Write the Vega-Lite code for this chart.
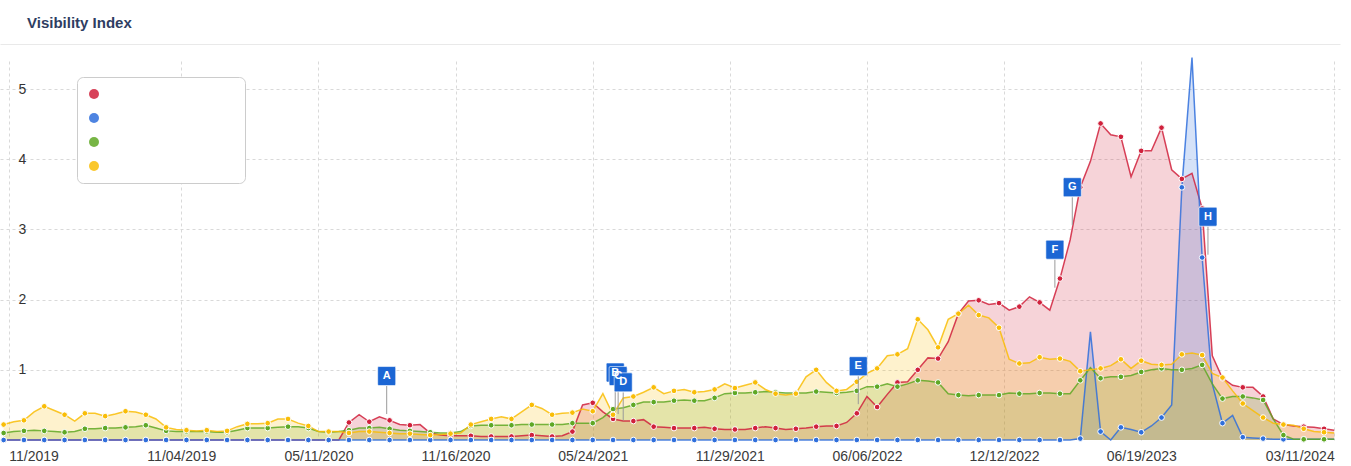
{
  "$schema": "https://vega.github.io/schema/vega-lite/v6.json",
  "width": 1340,
  "height": 379,
  "autosize": {"type": "none"},
  "padding": {"left": 0, "top": 61, "right": 11, "bottom": 26},
  "background": "white",
  "title": {"text": "Visibility Index", "anchor": "start", "frame": "group", "font": "Liberation Sans", "fontSize": 15, "fontWeight": "bold", "color": "#2e3d62", "dx": 27, "baseline": "bottom", "offset": -2},
  "config": {
    "view": {"stroke": null},
    "font": "Liberation Sans",
    "legend": {"symbolType": "circle"}
  },
  "resolve": {"axis": {"x": "independent"}},
  "datasets": {
    "vi": [
      {"date":"2019-03-04","Domain 1":0,"Domain 2":0,"Domain 3":0.10,"Domain 4":0.22},
      {"date":"2019-03-18","Domain 1":0,"Domain 2":0,"Domain 3":0.12,"Domain 4":0.26},
      {"date":"2019-04-01","Domain 1":0,"Domain 2":0,"Domain 3":0.13,"Domain 4":0.28},
      {"date":"2019-04-15","Domain 1":0,"Domain 2":0,"Domain 3":0.14,"Domain 4":0.40},
      {"date":"2019-04-29","Domain 1":0,"Domain 2":0,"Domain 3":0.13,"Domain 4":0.48},
      {"date":"2019-05-13","Domain 1":0,"Domain 2":0,"Domain 3":0.12,"Domain 4":0.42},
      {"date":"2019-05-27","Domain 1":0,"Domain 2":0,"Domain 3":0.11,"Domain 4":0.36},
      {"date":"2019-06-10","Domain 1":0,"Domain 2":0,"Domain 3":0.12,"Domain 4":0.27},
      {"date":"2019-06-24","Domain 1":0,"Domain 2":0,"Domain 3":0.16,"Domain 4":0.38},
      {"date":"2019-07-08","Domain 1":0,"Domain 2":0,"Domain 3":0.16,"Domain 4":0.38},
      {"date":"2019-07-22","Domain 1":0,"Domain 2":0,"Domain 3":0.17,"Domain 4":0.34},
      {"date":"2019-08-05","Domain 1":0,"Domain 2":0,"Domain 3":0.17,"Domain 4":0.37},
      {"date":"2019-08-19","Domain 1":0,"Domain 2":0,"Domain 3":0.18,"Domain 4":0.41},
      {"date":"2019-09-02","Domain 1":0,"Domain 2":0,"Domain 3":0.19,"Domain 4":0.40},
      {"date":"2019-09-16","Domain 1":0,"Domain 2":0,"Domain 3":0.21,"Domain 4":0.36},
      {"date":"2019-09-30","Domain 1":0,"Domain 2":0,"Domain 3":0.17,"Domain 4":0.30},
      {"date":"2019-10-14","Domain 1":0,"Domain 2":0,"Domain 3":0.13,"Domain 4":0.18},
      {"date":"2019-10-28","Domain 1":0,"Domain 2":0,"Domain 3":0.12,"Domain 4":0.15},
      {"date":"2019-11-11","Domain 1":0,"Domain 2":0,"Domain 3":0.12,"Domain 4":0.14},
      {"date":"2019-11-25","Domain 1":0,"Domain 2":0,"Domain 3":0.12,"Domain 4":0.13},
      {"date":"2019-12-09","Domain 1":0,"Domain 2":0,"Domain 3":0.12,"Domain 4":0.14},
      {"date":"2019-12-23","Domain 1":0,"Domain 2":0,"Domain 3":0.11,"Domain 4":0.12},
      {"date":"2020-01-06","Domain 1":0,"Domain 2":0,"Domain 3":0.11,"Domain 4":0.13},
      {"date":"2020-01-20","Domain 1":0,"Domain 2":0,"Domain 3":0.14,"Domain 4":0.19},
      {"date":"2020-02-03","Domain 1":0,"Domain 2":0,"Domain 3":0.17,"Domain 4":0.23},
      {"date":"2020-02-17","Domain 1":0,"Domain 2":0,"Domain 3":0.17,"Domain 4":0.23},
      {"date":"2020-03-02","Domain 1":0,"Domain 2":0,"Domain 3":0.17,"Domain 4":0.24},
      {"date":"2020-03-16","Domain 1":0,"Domain 2":0,"Domain 3":0.18,"Domain 4":0.30},
      {"date":"2020-03-30","Domain 1":0,"Domain 2":0,"Domain 3":0.19,"Domain 4":0.30},
      {"date":"2020-04-13","Domain 1":0,"Domain 2":0,"Domain 3":0.19,"Domain 4":0.24},
      {"date":"2020-04-27","Domain 1":0,"Domain 2":0,"Domain 3":0.17,"Domain 4":0.20},
      {"date":"2020-05-11","Domain 1":0,"Domain 2":0,"Domain 3":0.12,"Domain 4":0.12},
      {"date":"2020-05-25","Domain 1":0,"Domain 2":0,"Domain 3":0.11,"Domain 4":0.12},
      {"date":"2020-06-08","Domain 1":0,"Domain 2":0,"Domain 3":0.12,"Domain 4":0.12},
      {"date":"2020-06-22","Domain 1":0.25,"Domain 2":0,"Domain 3":0.14,"Domain 4":0.10},
      {"date":"2020-07-06","Domain 1":0.36,"Domain 2":0,"Domain 3":0.17,"Domain 4":0.12},
      {"date":"2020-07-20","Domain 1":0.26,"Domain 2":0,"Domain 3":0.17,"Domain 4":0.12},
      {"date":"2020-08-03","Domain 1":0.33,"Domain 2":0,"Domain 3":0.18,"Domain 4":0.11},
      {"date":"2020-08-17","Domain 1":0.28,"Domain 2":0,"Domain 3":0.16,"Domain 4":0.10},
      {"date":"2020-08-31","Domain 1":0.22,"Domain 2":0,"Domain 3":0.14,"Domain 4":0.09},
      {"date":"2020-09-14","Domain 1":0.21,"Domain 2":0,"Domain 3":0.13,"Domain 4":0.09},
      {"date":"2020-09-28","Domain 1":0.22,"Domain 2":0,"Domain 3":0.12,"Domain 4":0.08},
      {"date":"2020-10-12","Domain 1":0.10,"Domain 2":0,"Domain 3":0.11,"Domain 4":0.07},
      {"date":"2020-10-26","Domain 1":0.07,"Domain 2":0,"Domain 3":0.10,"Domain 4":0.08},
      {"date":"2020-11-09","Domain 1":0.06,"Domain 2":0,"Domain 3":0.10,"Domain 4":0.09},
      {"date":"2020-11-23","Domain 1":0.06,"Domain 2":0,"Domain 3":0.12,"Domain 4":0.10},
      {"date":"2020-12-07","Domain 1":0.06,"Domain 2":0,"Domain 3":0.20,"Domain 4":0.22},
      {"date":"2020-12-21","Domain 1":0.05,"Domain 2":0,"Domain 3":0.21,"Domain 4":0.26},
      {"date":"2021-01-04","Domain 1":0.05,"Domain 2":0,"Domain 3":0.21,"Domain 4":0.30},
      {"date":"2021-01-18","Domain 1":0.05,"Domain 2":0,"Domain 3":0.21,"Domain 4":0.33},
      {"date":"2021-02-01","Domain 1":0.05,"Domain 2":0,"Domain 3":0.21,"Domain 4":0.30},
      {"date":"2021-02-15","Domain 1":0.06,"Domain 2":0,"Domain 3":0.22,"Domain 4":0.40},
      {"date":"2021-03-01","Domain 1":0.07,"Domain 2":0,"Domain 3":0.22,"Domain 4":0.50},
      {"date":"2021-03-15","Domain 1":0.06,"Domain 2":0,"Domain 3":0.22,"Domain 4":0.45},
      {"date":"2021-03-29","Domain 1":0.05,"Domain 2":0,"Domain 3":0.22,"Domain 4":0.36},
      {"date":"2021-04-12","Domain 1":0.06,"Domain 2":0,"Domain 3":0.22,"Domain 4":0.38},
      {"date":"2021-04-26","Domain 1":0.12,"Domain 2":0,"Domain 3":0.24,"Domain 4":0.39},
      {"date":"2021-05-10","Domain 1":0.50,"Domain 2":0,"Domain 3":0.24,"Domain 4":0.44},
      {"date":"2021-05-24","Domain 1":0.53,"Domain 2":0,"Domain 3":0.24,"Domain 4":0.41},
      {"date":"2021-06-07","Domain 1":0.40,"Domain 2":0,"Domain 3":0.32,"Domain 4":0.66},
      {"date":"2021-06-21","Domain 1":0.30,"Domain 2":0,"Domain 3":0.44,"Domain 4":0.36},
      {"date":"2021-07-05","Domain 1":0.27,"Domain 2":0,"Domain 3":0.46,"Domain 4":0.60},
      {"date":"2021-07-19","Domain 1":0.27,"Domain 2":0,"Domain 3":0.50,"Domain 4":0.62},
      {"date":"2021-08-02","Domain 1":0.29,"Domain 2":0,"Domain 3":0.54,"Domain 4":0.68},
      {"date":"2021-08-16","Domain 1":0.19,"Domain 2":0,"Domain 3":0.54,"Domain 4":0.75},
      {"date":"2021-08-30","Domain 1":0.18,"Domain 2":0,"Domain 3":0.54,"Domain 4":0.66},
      {"date":"2021-09-13","Domain 1":0.17,"Domain 2":0,"Domain 3":0.56,"Domain 4":0.70},
      {"date":"2021-09-27","Domain 1":0.17,"Domain 2":0,"Domain 3":0.57,"Domain 4":0.72},
      {"date":"2021-10-11","Domain 1":0.17,"Domain 2":0,"Domain 3":0.56,"Domain 4":0.68},
      {"date":"2021-10-25","Domain 1":0.18,"Domain 2":0,"Domain 3":0.56,"Domain 4":0.69},
      {"date":"2021-11-08","Domain 1":0.16,"Domain 2":0,"Domain 3":0.60,"Domain 4":0.72},
      {"date":"2021-11-22","Domain 1":0.15,"Domain 2":0,"Domain 3":0.66,"Domain 4":0.80},
      {"date":"2021-12-06","Domain 1":0.15,"Domain 2":0,"Domain 3":0.67,"Domain 4":0.74},
      {"date":"2021-12-20","Domain 1":0.15,"Domain 2":0,"Domain 3":0.67,"Domain 4":0.78},
      {"date":"2022-01-03","Domain 1":0.17,"Domain 2":0,"Domain 3":0.68,"Domain 4":0.82},
      {"date":"2022-01-17","Domain 1":0.19,"Domain 2":0,"Domain 3":0.69,"Domain 4":0.72},
      {"date":"2022-01-31","Domain 1":0.17,"Domain 2":0,"Domain 3":0.68,"Domain 4":0.66},
      {"date":"2022-02-14","Domain 1":0.15,"Domain 2":0,"Domain 3":0.67,"Domain 4":0.64},
      {"date":"2022-02-28","Domain 1":0.16,"Domain 2":0,"Domain 3":0.67,"Domain 4":0.66},
      {"date":"2022-03-14","Domain 1":0.17,"Domain 2":0,"Domain 3":0.67,"Domain 4":0.90},
      {"date":"2022-03-28","Domain 1":0.19,"Domain 2":0,"Domain 3":0.69,"Domain 4":1.00},
      {"date":"2022-04-11","Domain 1":0.20,"Domain 2":0,"Domain 3":0.68,"Domain 4":0.82},
      {"date":"2022-04-25","Domain 1":0.20,"Domain 2":0,"Domain 3":0.67,"Domain 4":0.70},
      {"date":"2022-05-09","Domain 1":0.25,"Domain 2":0,"Domain 3":0.68,"Domain 4":0.72},
      {"date":"2022-05-23","Domain 1":0.38,"Domain 2":0,"Domain 3":0.70,"Domain 4":0.83},
      {"date":"2022-06-06","Domain 1":0.62,"Domain 2":0,"Domain 3":0.76,"Domain 4":0.95},
      {"date":"2022-06-20","Domain 1":0.47,"Domain 2":0,"Domain 3":0.76,"Domain 4":1.02},
      {"date":"2022-07-04","Domain 1":0.65,"Domain 2":0,"Domain 3":0.80,"Domain 4":1.20},
      {"date":"2022-07-18","Domain 1":0.82,"Domain 2":0,"Domain 3":0.76,"Domain 4":1.22},
      {"date":"2022-08-01","Domain 1":0.83,"Domain 2":0,"Domain 3":0.80,"Domain 4":1.30},
      {"date":"2022-08-15","Domain 1":1.00,"Domain 2":0,"Domain 3":0.85,"Domain 4":1.72},
      {"date":"2022-08-29","Domain 1":1.17,"Domain 2":0,"Domain 3":0.84,"Domain 4":1.57},
      {"date":"2022-09-12","Domain 1":1.16,"Domain 2":0,"Domain 3":0.82,"Domain 4":1.32},
      {"date":"2022-09-26","Domain 1":1.40,"Domain 2":0,"Domain 3":0.66,"Domain 4":1.72},
      {"date":"2022-10-10","Domain 1":1.80,"Domain 2":0,"Domain 3":0.64,"Domain 4":1.80},
      {"date":"2022-10-24","Domain 1":1.98,"Domain 2":0,"Domain 3":0.63,"Domain 4":1.92},
      {"date":"2022-11-07","Domain 1":1.99,"Domain 2":0,"Domain 3":0.64,"Domain 4":1.78},
      {"date":"2022-11-21","Domain 1":1.93,"Domain 2":0,"Domain 3":0.64,"Domain 4":1.74},
      {"date":"2022-12-05","Domain 1":1.95,"Domain 2":0,"Domain 3":0.64,"Domain 4":1.60},
      {"date":"2022-12-19","Domain 1":1.85,"Domain 2":0,"Domain 3":0.67,"Domain 4":1.15},
      {"date":"2023-01-02","Domain 1":1.90,"Domain 2":0,"Domain 3":0.66,"Domain 4":1.09},
      {"date":"2023-01-16","Domain 1":2.04,"Domain 2":0,"Domain 3":0.66,"Domain 4":1.10},
      {"date":"2023-01-30","Domain 1":1.96,"Domain 2":0,"Domain 3":0.67,"Domain 4":1.18},
      {"date":"2023-02-13","Domain 1":1.85,"Domain 2":0,"Domain 3":0.67,"Domain 4":1.15},
      {"date":"2023-02-27","Domain 1":2.30,"Domain 2":0,"Domain 3":0.66,"Domain 4":1.16},
      {"date":"2023-03-13","Domain 1":2.85,"Domain 2":0,"Domain 3":0.66,"Domain 4":1.12},
      {"date":"2023-03-27","Domain 1":3.60,"Domain 2":0.02,"Domain 3":0.85,"Domain 4":0.98},
      {"date":"2023-04-10","Domain 1":3.97,"Domain 2":1.54,"Domain 3":1.03,"Domain 4":1.00},
      {"date":"2023-04-24","Domain 1":4.51,"Domain 2":0.12,"Domain 3":0.88,"Domain 4":1.02},
      {"date":"2023-05-08","Domain 1":4.35,"Domain 2":0,"Domain 3":0.90,"Domain 4":1.06},
      {"date":"2023-05-22","Domain 1":4.32,"Domain 2":0.18,"Domain 3":0.90,"Domain 4":1.15},
      {"date":"2023-06-05","Domain 1":3.75,"Domain 2":0.15,"Domain 3":0.92,"Domain 4":1.02},
      {"date":"2023-06-19","Domain 1":4.12,"Domain 2":0.11,"Domain 3":0.97,"Domain 4":1.13},
      {"date":"2023-07-03","Domain 1":4.12,"Domain 2":0.20,"Domain 3":1.00,"Domain 4":1.08},
      {"date":"2023-07-17","Domain 1":4.45,"Domain 2":0.32,"Domain 3":1.02,"Domain 4":1.07},
      {"date":"2023-07-31","Domain 1":3.85,"Domain 2":0.50,"Domain 3":1.00,"Domain 4":1.08},
      {"date":"2023-08-14","Domain 1":3.72,"Domain 2":3.60,"Domain 3":1.00,"Domain 4":1.22},
      {"date":"2023-08-28","Domain 1":3.80,"Domain 2":5.45,"Domain 3":1.02,"Domain 4":1.24},
      {"date":"2023-09-11","Domain 1":3.30,"Domain 2":2.60,"Domain 3":1.07,"Domain 4":1.21},
      {"date":"2023-09-25","Domain 1":1.20,"Domain 2":0.80,"Domain 3":0.80,"Domain 4":0.95},
      {"date":"2023-10-09","Domain 1":0.88,"Domain 2":0.24,"Domain 3":0.59,"Domain 4":0.89},
      {"date":"2023-10-23","Domain 1":0.78,"Domain 2":0.35,"Domain 3":0.62,"Domain 4":0.70},
      {"date":"2023-11-06","Domain 1":0.75,"Domain 2":0.04,"Domain 3":0.62,"Domain 4":0.52},
      {"date":"2023-11-20","Domain 1":0.75,"Domain 2":0.03,"Domain 3":0.60,"Domain 4":0.42},
      {"date":"2023-12-04","Domain 1":0.62,"Domain 2":0.02,"Domain 3":0.57,"Domain 4":0.32},
      {"date":"2023-12-18","Domain 1":0.30,"Domain 2":0.01,"Domain 3":0.30,"Domain 4":0.24},
      {"date":"2024-01-01","Domain 1":0.22,"Domain 2":0.01,"Domain 3":0.07,"Domain 4":0.22},
      {"date":"2024-01-15","Domain 1":0.20,"Domain 2":0.01,"Domain 3":0.01,"Domain 4":0.21},
      {"date":"2024-01-29","Domain 1":0.19,"Domain 2":0.01,"Domain 3":0.01,"Domain 4":0.16},
      {"date":"2024-02-12","Domain 1":0.18,"Domain 2":0.01,"Domain 3":0.01,"Domain 4":0.12},
      {"date":"2024-02-26","Domain 1":0.16,"Domain 2":0.01,"Domain 3":0.01,"Domain 4":0.11},
      {"date":"2024-03-11","Domain 1":0.14,"Domain 2":0.01,"Domain 3":0.01,"Domain 4":0.10}
    ],
    "events": [
      {"date":"2020-08-13","label":"A","value":0.37},
      {"date":"2021-06-24","label":"B","value":0.42},
      {"date":"2021-06-28","label":"C","value":0.37},
      {"date":"2021-07-05","label":"D","value":0.28},
      {"date":"2022-05-25","label":"E","value":0.51},
      {"date":"2023-02-20","label":"F","value":2.17},
      {"date":"2023-03-16","label":"G","value":3.06},
      {"date":"2023-09-19","label":"H","value":2.64}
    ]
  },
  "layer": [
    {
      "data": {"name": "vi"},
      "transform": [{"fold": ["Domain 1", "Domain 2", "Domain 3", "Domain 4"], "as": ["site", "value"]}],
      "mark": {"type": "area", "fillOpacity": 0.2, "strokeWidth": 0},
      "encoding": {
        "x": {"field": "date", "type": "temporal",
          "scale": {"type": "utc", "domain": [{"year": 2019, "month": 2, "date": 27, "utc": true}, {"year": 2024, "month": 3, "date": 19, "utc": true}]},
          "axis": {"title": null, "orient": "bottom",
            "values": [
              {"year": 2019, "month": 3, "date": 11, "utc": true},
              {"year": 2019, "month": 11, "date": 4, "utc": true},
              {"year": 2020, "month": 5, "date": 11, "utc": true},
              {"year": 2020, "month": 11, "date": 16, "utc": true},
              {"year": 2021, "month": 5, "date": 24, "utc": true},
              {"year": 2021, "month": 11, "date": 29, "utc": true},
              {"year": 2022, "month": 6, "date": 6, "utc": true},
              {"year": 2022, "month": 12, "date": 12, "utc": true},
              {"year": 2023, "month": 6, "date": 19, "utc": true},
              {"year": 2024, "month": 3, "date": 11, "utc": true}
            ],
            "labelExpr": "datum.value < 1.56e12 ? utcFormat(datum.value, '%d/%Y') : utcFormat(datum.value, '%m/%d/%Y')",
            "labelFlush": 15, "labelOverlap": false, "labelBound": false,
            "labelFontSize": 14, "labelColor": "#3a3a3a", "labelPadding": 9,
            "domain": false, "ticks": false,
            "grid": true, "gridColor": "#d9d9d9", "gridDash": [3, 3], "gridWidth": 1,
            "encode": {
              "grid": {"update": {"opacity": {"signal": "datum.value < 1.56e12 ? 0 : 1"}}}
            }
          }
        },
        "y": {"field": "value", "type": "quantitative", "stack": null,
          "scale": {"domain": [0, 5.4], "nice": false, "zero": true},
          "axis": {"title": null, "values": [1, 2, 3, 4, 5], "format": "d", "domain": false, "ticks": false, "tickSize": 0,
            "labelAlign": "center", "labelPadding": -22, "labelFontSize": 14, "labelColor": "#333333",
            "grid": true, "gridColor": "#d9d9d9", "gridDash": [3, 3], "gridWidth": 1}
        },
        "color": {"field": "site", "type": "nominal",
          "scale": {"domain": ["Domain 1", "Domain 2", "Domain 3", "Domain 4"], "range": ["#d0213c", "#2f6fdc", "#5fa825", "#f9bd07"]},
          "legend": {"orient": "none", "legendX": 77, "legendY": 16, "title": null,
            "labelOpacity": 0, "labelOffset": 74,
            "symbolType": "circle", "symbolSize": 100, "symbolStrokeWidth": 0, "symbolOpacity": 1,
            "padding": 10, "rowPadding": 10, "labelFontSize": 14,
            "strokeColor": "#cccccc", "fillColor": "white", "cornerRadius": 6}
        }
      }
    },
    {
      "data": {"name": "vi"},
      "transform": [{"fold": ["Domain 1", "Domain 2", "Domain 3", "Domain 4"], "as": ["site", "value"]}],
      "mark": {"type": "line", "strokeWidth": 1.5, "opacity": 0.85},
      "encoding": {
        "x": {"field": "date", "type": "temporal",
          "axis": {"orient": "top", "offset": 17, "title": null, "labels": false, "ticks": false, "grid": false, "domain": true, "domainColor": "#e9e9e9", "domainWidth": 1}},
        "y": {"field": "value", "type": "quantitative", "stack": null},
        "color": {"field": "site", "type": "nominal"}
      }
    },
    {
      "data": {"name": "vi"},
      "transform": [
        {"fold": ["Domain 1", "Domain 2", "Domain 3", "Domain 4"], "as": ["site", "value"]},
        {"window": [{"op": "row_number", "as": "rn"}], "groupby": ["site"], "sort": [{"field": "date"}]},
        {"filter": "datum.rn % 2 == 1"}
      ],
      "mark": {"type": "point", "filled": true, "size": 32, "stroke": "white", "strokeWidth": 1, "opacity": 1},
      "encoding": {
        "x": {"field": "date", "type": "temporal", "axis": null},
        "y": {"field": "value", "type": "quantitative", "stack": null},
        "color": {"field": "site", "type": "nominal"}
      }
    },
    {
      "data": {"name": "events"},
      "mark": {"type": "rule", "y2Offset": -28, "color": "#9a9a9a", "strokeWidth": 1},
      "encoding": {
        "x": {"field": "date", "type": "temporal", "axis": null},
        "y": {"field": "value", "type": "quantitative"},
        "y2": {"field": "value"}
      }
    },
    {
      "data": {"name": "events"},
      "mark": {"type": "point", "shape": "M -0.85 -1 L 0.85 -1 Q 0.95 -1 0.95 -0.85 L 0.95 0.85 Q 0.95 1 0.85 1 L -0.85 1 Q -0.95 1 -0.95 0.85 L -0.95 -0.85 Q -0.95 -1 -0.85 -1 Z", "filled": true, "size": 361, "yOffset": -38, "color": "#1b66d4", "opacity": 1, "stroke": "#ffffff", "strokeWidth": 0.6},
      "encoding": {
        "x": {"field": "date", "type": "temporal", "axis": null},
        "y": {"field": "value", "type": "quantitative"}
      }
    },
    {
      "data": {"name": "events"},
      "mark": {"type": "text", "yOffset": -38, "color": "white", "fontWeight": "bold", "fontSize": 11, "baseline": "middle", "align": "center"},
      "encoding": {
        "x": {"field": "date", "type": "temporal", "axis": null},
        "y": {"field": "value", "type": "quantitative"},
        "text": {"field": "label"}
      }
    }
  ]
}
